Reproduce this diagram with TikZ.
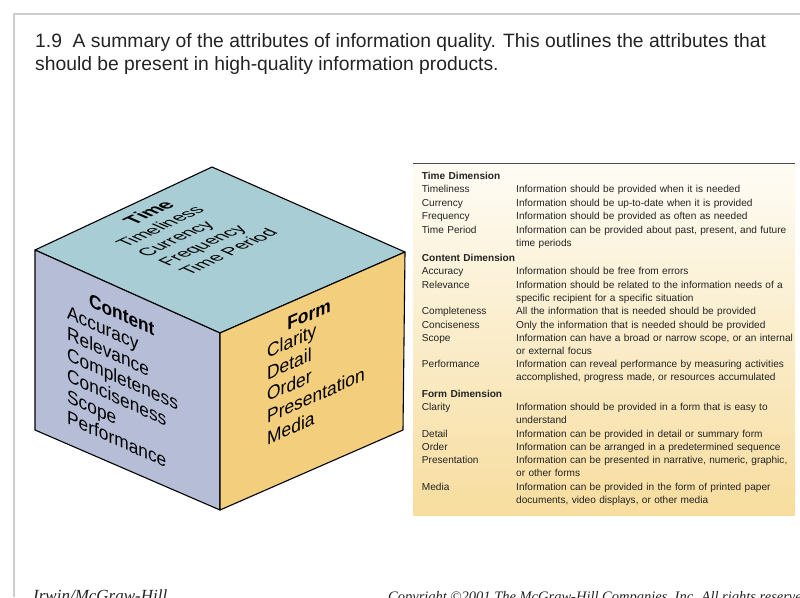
\documentclass[tikz,border=0pt]{standalone}
\usepackage{fontspec}
\setmainfont{Liberation Sans}
\newfontfamily\footfont{Liberation Serif}
\usetikzlibrary{positioning}

\definecolor{topface}{RGB}{168,205,212}
\definecolor{leftface}{RGB}{182,189,215}
\definecolor{rightface}{RGB}{243,207,125}
\definecolor{tabtop}{RGB}{254,252,245}
\definecolor{tabbot}{RGB}{247,221,158}
\definecolor{framegray}{RGB}{205,205,205}
\definecolor{ink}{RGB}{35,35,35}

\begin{document}
\begin{tikzpicture}[x=1pt, y=-1pt,
    titletext/.style={anchor=base west, inner sep=0pt, text=ink, font=\fontsize{19.3}{23}\selectfont},
    cube text/.style={anchor=base west, inner sep=0pt, font=\fontsize{19}{21}\selectfont},
    cube head/.style={cube text, font=\fontsize{19}{21}\selectfont\bfseries},
    top text/.style={cube text, font=\fontsize{18.5}{21}\selectfont},
    top head/.style={cube text, font=\fontsize{20}{21}\selectfont\bfseries},
    tlabel/.style={inner sep=0pt, text width=110pt, align=left, text height=9.5pt, text depth=3.5pt, text=ink, font=\fontsize{10.1}{13}\selectfont},
    thead/.style={tlabel, font=\fontsize{10.1}{13}\selectfont\bfseries},
    tdesc/.style={anchor=base west, inner sep=0pt, text width=280pt, align=left, text=ink, font=\fontsize{10.1}{13}\selectfont},
    foot/.style={anchor=base west, inner sep=0pt, text=ink, font=\footfont\itshape\fontsize{17}{20}\selectfont}]
  \useasboundingbox (0,0) rectangle (800,597);
  \clip (0,0) rectangle (800,597);

  % slide frame
  \draw [framegray, line width=2.5pt] (800,14) -- (14,14) -- (14,597);

  % title
  \node [titletext] (title1) at (35,47) {1.9\ \ A summary of the attributes of information quality. This outlines the attributes that};
  \node [titletext] (title2) at (35,70) {should be present in high-quality information products.};

  % cube
  \coordinate (ctop) at (212,167);
  \coordinate (cleft) at (35,250);
  \coordinate (cright) at (405,252);
  \coordinate (cfront) at (220,333);
  \coordinate (cleftbot) at (35,430);
  \coordinate (cbot) at (220,510);
  \coordinate (crightbot) at (403,430);
  \filldraw [fill=topface, line width=1.1pt, line join=round] (cleft) -- (ctop) -- (cright) -- (cfront) -- cycle;
  \filldraw [fill=leftface, line width=1.1pt, line join=round] (cleft) -- (cfront) -- (cbot) -- (cleftbot) -- cycle;
  \filldraw [fill=rightface, line width=1.1pt, line join=round] (cfront) -- (cright) -- (crightbot) -- (cbot) -- cycle;

  \begin{scope}[shift={(126,248)}, cm={0.905,0.426,-0.916,0.402,(0,0)}, transform shape]
    \node [top head] (time) at (32,-23) {Time};
    \node [top text] (timeliness) at (0,0) {Timeliness};
    \node [top text] (currency) at (0,23) {Currency};
    \node [top text] (frequency) at (0,46) {Frequency};
    \node [top text] (period) at (0,69) {Time Period};
  \end{scope}

  \begin{scope}[shift={(67,318.5)}, cm={0.912,-0.410,0,1,(0,0)}, transform shape]
    \node [cube head] (content) at (24,-22) {Content};
    \node [cube text] (accuracy) at (0,0) {Accuracy};
    \node [cube text] (relevance) at (0,21) {Relevance};
    \node [cube text] (completeness) at (0,42) {Completeness};
    \node [cube text] (conciseness) at (0,63) {Conciseness};
    \node [cube text] (scope) at (0,84) {Scope};
    \node [cube text] (performance) at (0,105) {Performance};
  \end{scope}

  \begin{scope}[shift={(267,358.5)}, cm={0.915,0.404,0,1,(0,0)}, transform shape]
    \node [cube head] (form) at (22,-19) {Form};
    \node [cube text] (clarity) at (0,0) {Clarity};
    \node [cube text] (detail) at (0,21.7) {Detail};
    \node [cube text] (order) at (0,43.4) {Order};
    \node [cube text] (presentation) at (0,65.1) {Presentation};
    \node [cube text] (media) at (0,86.8) {Media};
  \end{scope}

  % table
  \shade [top color=tabtop, bottom color=tabbot] (413,165) rectangle (795,515);
  \draw [black!70, line width=1.3pt] (413,163.5) -- (795,163.5);
  \coordinate (dcol) at (516,0);

  \node [thead, anchor=base west] (tdim) at (421.7,179.5) {Time Dimension};
  \node [tlabel, below=0pt of tdim] (ttml) {Timeliness};
  \node [tlabel, below=0pt of ttml] (tcur) {Currency};
  \node [tlabel, below=0pt of tcur] (tfrq) {Frequency};
  \node [tlabel, below=0pt of tfrq] (tper) {Time Period};
  \node [thead, below=15pt of tper] (cdim) {Content Dimension};
  \node [tlabel, below=0pt of cdim] (cacc) {Accuracy};
  \node [tlabel, below=0pt of cacc] (crel) {Relevance};
  \node [tlabel, below=13pt of crel] (ccmp) {Completeness};
  \node [tlabel, below=0pt of ccmp] (ccns) {Conciseness};
  \node [tlabel, below=0pt of ccns] (cscp) {Scope};
  \node [tlabel, below=13pt of cscp] (cprf) {Performance};
  \node [thead, below=16pt of cprf] (fdim) {Form Dimension};
  \node [tlabel, below=0pt of fdim] (fclr) {Clarity};
  \node [tlabel, below=13pt of fclr] (fdet) {Detail};
  \node [tlabel, below=0pt of fdet] (ford) {Order};
  \node [tlabel, below=0pt of ford] (fprs) {Presentation};
  \node [tlabel, below=13pt of fprs] (fmed) {Media};

  \node [tdesc] (dtml) at (ttml.base -| dcol) {Information should be provided when it is needed};
  \node [tdesc] (dcur) at (tcur.base -| dcol) {Information should be up-to-date when it is provided};
  \node [tdesc] (dfrq) at (tfrq.base -| dcol) {Information should be provided as often as needed};
  \node [tdesc] (dper) at (tper.base -| dcol) {Information can be provided about past, present, and future\\time periods};
  \node [tdesc] (dacc) at (cacc.base -| dcol) {Information should be free from errors};
  \node [tdesc] (drel) at (crel.base -| dcol) {Information should be related to the information needs of a\\specific recipient for a specific situation};
  \node [tdesc] (dcmp) at (ccmp.base -| dcol) {All the information that is needed should be provided};
  \node [tdesc] (dcns) at (ccns.base -| dcol) {Only the information that is needed should be provided};
  \node [tdesc] (dscp) at (cscp.base -| dcol) {Information can have a broad or narrow scope, or an internal\\or external focus};
  \node [tdesc] (dprf) at (cprf.base -| dcol) {Information can reveal performance by measuring activities\\accomplished, progress made, or resources accumulated};
  \node [tdesc] (dclr) at (fclr.base -| dcol) {Information should be provided in a form that is easy to\\understand};
  \node [tdesc] (ddet) at (fdet.base -| dcol) {Information can be provided in detail or summary form};
  \node [tdesc] (dord) at (ford.base -| dcol) {Information can be arranged in a predetermined sequence};
  \node [tdesc] (dprs) at (fprs.base -| dcol) {Information can be presented in narrative, numeric, graphic,\\or other forms};
  \node [tdesc] (dmed) at (fmed.base -| dcol) {Information can be provided in the form of printed paper\\documents, video displays, or other media};

  % footer
  \node [foot] (publisher) at (33,601) {Irwin/McGraw-Hill};
  \node [foot, font=\footfont\itshape\fontsize{14.5}{18}\selectfont] (copyright) at (388,601) {Copyright ©2001 The McGraw-Hill Companies, Inc. All rights reserved.};
\end{tikzpicture}
\end{document}
